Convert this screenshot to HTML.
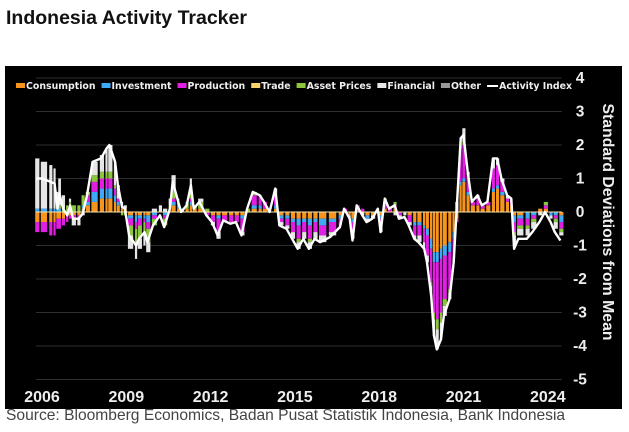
<!DOCTYPE html>
<html><head><meta charset="utf-8">
<style>
html,body{margin:0;padding:0;background:#fff;width:629px;height:432px;overflow:hidden;font-family:"Liberation Sans",sans-serif;}
#title{position:absolute;left:6px;top:7px;font-size:19.5px;font-weight:bold;color:#111;}
#src{position:absolute;left:6px;top:407px;font-size:15.6px;color:#444;}
svg{position:absolute;left:0;top:0;}
</style></head><body>
<div id="title">Indonesia Activity Tracker</div>
<svg id="chart" width="629" height="432"></svg>
<div id="src">Source: Bloomberg Economics, Badan Pusat Statistik Indonesia, Bank Indonesia</div>
<script>
const dates=[2005.8,2006.0,2006.3,2006.45,2006.55,2006.62,2006.75,2006.9,2007.0,2007.1,2007.3,2007.45,
2007.6,2007.8,2008.1,2008.3,2008.4,2008.6,2008.7,2008.85,2008.95,
2009.1,2009.35,2009.45,2009.65,2009.75,2009.95,2010.2,2010.35,2010.55,2010.65,2010.85,2010.95,
2011.15,2011.3,2011.4,2011.6,2011.85,2012.05,2012.25,2012.45,2012.7,2012.9,2013.1,
2013.3,2013.5,2013.75,2013.9,2014.1,2014.3,2014.45,2014.7,2014.9,2015.1,2015.3,2015.5,2015.7,2015.9,
2016.25,2016.6,2016.75,2016.95,2017.05,2017.2,2017.4,2017.55,2017.75,2017.95,2018.05,2018.2,2018.35,2018.55,2018.7,2018.9,
2019.05,2019.25,2019.4,2019.6,2019.7,2019.85,2019.95,2020.05,2020.2,2020.3,2020.5,2020.65,2020.75,
2020.9,2021.0,2021.15,2021.3,2021.5,2021.65,2021.85,2022.05,2022.2,2022.35,2022.55,2022.7,
2022.8,2022.95,2023.25,2023.45,2023.7,2023.9,2024.1,2024.25,2024.45];
const activityIndex=[1.0,1.0,0.9,0.85,0.1,0.55,0.1,-0.1,0.2,-0.2,-0.2,-0.05,
0.5,1.5,1.6,1.9,2.0,1.5,0.8,0.15,0.1,
-0.7,-1.0,-0.8,-0.6,-0.9,-0.4,-0.1,-0.45,0.1,0.9,0.3,0.0,
0.2,0.8,0.1,0.3,-0.1,-0.3,-0.7,-0.25,-0.35,-0.3,-0.7,
0.1,0.6,0.5,0.3,0.0,0.7,-0.4,-0.5,-0.8,-1.1,-0.8,-1.1,-0.8,-0.9,
-0.75,-0.45,0.1,-0.2,-0.85,0.2,-0.1,-0.3,-0.2,0.1,-0.6,0.4,0.1,0.2,-0.2,-0.15,
-0.4,-0.8,-0.9,-1.1,-1.5,-2.5,-3.7,-4.1,-3.8,-3.1,-2.6,-1.5,0.0,
2.2,2.3,1.2,0.3,0.5,0.2,0.3,1.6,1.6,1.0,0.5,0.4,
-1.1,-0.8,-0.8,-0.6,-0.3,0.0,-0.3,-0.6,-0.85];
const consumption=[-0.3,-0.3,-0.3,-0.3,-0.2,-0.2,-0.2,-0.1,-0.1,-0.1,-0.1,0.1,
0.2,0.3,0.4,0.4,0.4,0.3,0.2,0.1,0.1,
-0.1,-0.1,-0.1,-0.1,-0.1,0,0,0,0.1,0.2,0.1,0,
0.1,0.2,0.1,0.1,0,-0.1,-0.1,-0.1,-0.1,-0.1,-0.1,
0,0.1,0.1,0.1,0,0.1,-0.1,-0.1,-0.2,-0.2,-0.2,-0.2,-0.2,-0.2,
-0.2,-0.1,0,-0.1,-0.2,0,0,-0.1,-0.1,0,-0.1,0.1,0,0.1,0,0,
-0.1,-0.3,-0.3,-0.4,-0.5,-0.8,-1.2,-1.2,-1.1,-1.0,-0.9,-0.6,-0.2,
0.8,0.9,0.5,0.2,0.2,0.1,0.2,0.6,0.7,0.5,0.3,0.2,
-0.1,-0.1,0,0,0.1,0.1,0,0,-0.1];
const production=[-0.3,-0.3,-0.4,-0.4,-0.3,-0.3,-0.2,-0.2,-0.1,-0.1,-0.1,0.0,
0.2,0.3,0.3,0.3,0.3,0.2,0.1,0,0,
-0.2,-0.2,-0.2,-0.1,-0.2,-0.1,0,-0.1,0,0.1,0,0,
0,0.1,0,0,-0.1,-0.2,-0.4,-0.2,-0.2,-0.2,-0.4,
0,0.3,0.3,0.2,0,0.3,-0.1,-0.2,-0.3,-0.4,-0.3,-0.4,-0.3,-0.3,
-0.3,-0.2,0.1,0,-0.3,0.2,0.1,0,0,0.1,-0.2,0.2,0.1,0.1,-0.1,0,
-0.2,-0.3,-0.3,-0.4,-0.6,-1.0,-1.5,-1.7,-1.6,-1.3,-1.1,-0.6,-0.1,
1.0,1.0,0.5,0.1,0.2,0.1,0.1,0.6,0.6,0.3,0.1,0.1,
-0.3,-0.2,-0.2,-0.1,0,0.1,0,-0.1,-0.2];
const investment=[0.1,0.1,0.1,0.1,0.1,0.1,0,0,0,0,0,0.1,
0.1,0.3,0.3,0.3,0.3,0.2,0.1,0.1,0,
-0.1,-0.2,-0.1,-0.1,-0.2,-0.1,0,-0.1,0,0.1,0.1,0,
0,0.1,0,0,0,0,-0.1,0,0,0,-0.1,
0,0.1,0.1,0,0,0.1,-0.1,-0.1,-0.1,-0.2,-0.1,-0.2,-0.1,-0.2,
-0.1,-0.1,0,0,-0.1,0,0,-0.1,0,0,-0.1,0,0,0,0,0,
0,-0.1,-0.1,-0.1,-0.2,-0.3,-0.3,-0.3,-0.3,-0.3,-0.3,-0.2,0,
0.1,0.1,0.1,0,0,0,0,0.1,0.1,0.1,0,0,
-0.2,-0.1,-0.2,-0.1,0,0,-0.1,-0.1,-0.2];
const assetPrices=[0,0,0,0,0,0.1,0.1,0.2,0.3,0.2,0.2,0.3,
0.1,0.2,0.2,0.2,0.2,0.1,0,-0.1,-0.1,
-0.3,-0.5,-0.4,-0.3,-0.4,-0.2,0,-0.2,0.1,0.3,0.1,0.1,
0.2,0.3,0.1,0.2,0.1,0,0,0,0,0,0,
0.1,0.1,0,0,0,0.1,0,0,0,-0.1,0,-0.1,0,0,
0,0,0,0,0,0,0,0,0,0,0,0.1,0,0.1,0,0,
0,0,0,0,0,-0.1,-0.2,-0.3,-0.3,-0.2,-0.1,0,0,
0,0.1,0,0,0,0,0,0,0,0,0,0,
-0.1,-0.1,-0.1,-0.1,0,0.1,0,-0.1,-0.1];
const financial=[1.5,1.4,1.3,1.2,0.5,0.8,0.4,0,0.1,-0.2,-0.2,-0.1,
0,0.4,0.5,0.7,0.8,0.7,0.4,0.1,0.1,
-0.4,-0.4,-0.3,-0.4,-0.3,0.1,0.2,0.1,0.2,0.4,0.1,0,
0,0.3,0,0.1,0,-0.1,-0.2,0,0,0,-0.1,
0,0,0,0,0,0.1,-0.1,-0.1,-0.2,-0.2,-0.2,-0.2,-0.2,-0.2,
-0.1,0,0,-0.1,-0.2,0,-0.1,-0.1,-0.1,0,-0.2,0,0,-0.1,-0.1,-0.1,
-0.1,-0.1,-0.2,-0.2,-0.2,-0.3,-0.5,-0.6,-0.5,-0.3,-0.2,-0.1,0.3,
0.3,0.4,0.1,0,0.1,0,0,0.3,0.2,0.1,0.1,0.1,
-0.3,-0.2,-0.2,-0.2,-0.1,0,-0.1,-0.2,-0.1];
const yTicks=[4,3,2,1,0,-1,-2,-3,-4,-5];
const xTicks=[2006,2009,2012,2015,2018,2021,2024];
const legendLabels=["Consumption","Investment","Production","Trade","Asset Prices","Financial","Other","Activity Index"];

const NS="http://www.w3.org/2000/svg";
const svg=document.getElementById('chart');
function X(t){return 42+(t-2006)*28.1;}
function Y(v){return 212-v*33.5;}
function mk(tag,attrs,parent){const e=document.createElementNS(NS,tag);for(const k in attrs)e.setAttribute(k,attrs[k]);(parent||svg).appendChild(e);return e;}

const bg=mk('rect',{x:5,y:66,width:617,height:343,fill:'#000'});



yTicks.forEach(v=>{
  const g=mk('line',{x1:36,x2:562,y1:Y(v),y2:Y(v),stroke:'#2e2e2e','stroke-width':1});
  
  
  const t=mk('text',{x:580,y:Y(v)+5,'text-anchor':'middle',fill:'#eee','font-size':15.5,'font-weight':'bold','font-family':'Liberation Sans, sans-serif'});
  t.textContent=v;
  
  
});
xTicks.forEach(yr=>{
  const t=mk('text',{x:X(yr),y:402,'text-anchor':'middle',fill:'#eee','font-size':16,'font-weight':'bold','font-family':'Liberation Sans, sans-serif'});
  t.textContent=yr;
  
  
});
const at=mk('text',{x:0,y:0,'text-anchor':'middle',fill:'#eee','font-size':15.8,'font-weight':'bold','font-family':'Liberation Sans, sans-serif',transform:'translate(603,222) rotate(90)'});
at.textContent='Standard Deviations from Mean';



const series=[[consumption,'#f7941d'],[investment,'#3fa9f5'],[production,'#e21ee2'],[assetPrices,'#8cc63f'],[financial,'#e6e6e6']];
dates.forEach((d,i)=>{
  const nxt=i<dates.length-1?dates[i+1]:d+0.2;
  const w=Math.max(2.2,(X(nxt)-X(d))*0.75);
  let pos=0,neg=0;
  series.forEach(([arr,col])=>{
    const v=arr[i];if(!v)return;
    let y0,y1;
    if(v>0){y0=pos;pos+=v;y1=pos;}else{y0=neg;neg+=v;y1=neg;}
    const r=mk('rect',{x:X(d)-1.2,y:Math.min(Y(y0),Y(y1)),width:w,height:Math.abs(Y(y1)-Y(y0)),fill:col});
    
    
  });
});
const z=mk('line',{x1:36,x2:562,y1:Y(0),y2:Y(0),stroke:'#f3e6b0','stroke-width':1});



const pts=dates.map((d,i)=>X(d).toFixed(1)+','+Y(activityIndex[i]).toFixed(1)).join(' ');
const ln=mk('polyline',{points:pts,fill:'none',stroke:'#fff','stroke-width':2.4,'stroke-linejoin':'round'});



const legColors=['#f7941d','#3fa9f5','#e21ee2','#f5d36a','#8cc63f','#e6e6e6','#999'];
let lx=16;
legendLabels.forEach((lab,i)=>{
  const g=mk('g',{});
  
  
  if(i<7){mk('rect',{x:lx,y:83,width:9,height:5,fill:legColors[i]},g);}
  else{mk('rect',{x:lx,y:85,width:11,height:2,fill:'#fff'},g);}
  const t=mk('text',{x:lx+(i<7?10:12),y:89,fill:'#eee','font-size':9.4,'font-weight':'bold','font-family':'DejaVu Sans, sans-serif'},g);
  t.textContent=lab;
  lx+= (i<7?10:12) + t.getComputedTextLength()+6;
});
</script>
</body></html>
